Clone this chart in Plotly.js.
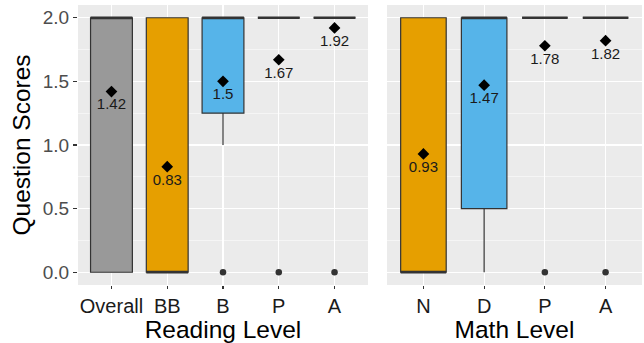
<!DOCTYPE html>
<html>
<head>
<meta charset="utf-8">
<script src="https://cdn.plot.ly/plotly-3.0.1.min.js"></script>
<style>html,body{margin:0;padding:0;background:#fff;}#chart{width:644px;height:343px;}</style>
</head>
<body>
<div id="chart"></div>
<script>
// ---- Data ----
const readingCats = ['Overall', 'BB', 'B', 'P', 'A'];
const readingQ1 = [0, 0, 1.25, 2, 2];
const readingMedian = [2, 0, 2, 2, 2];
const readingQ3 = [2, 2, 2, 2, 2];
const readingLowerFence = [0, 0, 1, 2, 2];
const readingUpperFence = [2, 2, 2, 2, 2];
const readingMean = [1.42, 0.83, 1.5, 1.67, 1.92];
const readingOutlierCats = ['B', 'P', 'A'];
const readingOutlierVals = [0, 0, 0];

const mathCats = ['N', 'D', 'P', 'A'];
const mathQ1 = [0, 0.5, 2, 2];
const mathMedian = [0, 2, 2, 2];
const mathQ3 = [2, 2, 2, 2];
const mathLowerFence = [0, 0, 2, 2];
const mathUpperFence = [2, 2, 2, 2];
const mathMean = [0.93, 1.47, 1.78, 1.82];
const mathOutlierCats = ['P', 'A'];
const mathOutlierVals = [0, 0];

const yTicks = [0, 0.5, 1, 1.5, 2];

// ---- Styles ----
const levelFill = {
  'Overall': '#999999', 'BB': '#E69F00', 'N': '#E69F00',
  'B': '#56B4E9', 'D': '#56B4E9', 'P': '#009E73', 'A': '#F0E442'
};
const BOX_W = 0.75;
const LINE = '#333333';
const FONT = 'Liberation Sans, Arial, sans-serif';

const traces = [];
function addPanel(cats, q1, med, q3, lo, hi, mean, oCats, oVals, xa, ya) {
  const pos = cats.map((c, i) => i + 1);
  cats.forEach((c, i) => {
    traces.push({
      type: 'box', xaxis: xa, yaxis: ya,
      x: [pos[i]], q1: [q1[i]], median: [med[i]], q3: [q3[i]],
      lowerfence: [lo[i]], upperfence: [hi[i]],
      width: BOX_W, whiskerwidth: 0,
      fillcolor: levelFill[c], line: {color: LINE, width: 1.2},
      boxpoints: false, hoverinfo: 'skip', showlegend: false
    });
    // thick median line (ggplot style)
    traces.push({
      type: 'scatter', mode: 'lines', xaxis: xa, yaxis: ya,
      x: [pos[i] - BOX_W / 2, pos[i] + BOX_W / 2], y: [med[i], med[i]],
      line: {color: LINE, width: 2.6}, hoverinfo: 'skip', showlegend: false
    });
  });
  traces.push({
    type: 'scatter', mode: 'markers', xaxis: xa, yaxis: ya,
    x: oCats.map(c => cats.indexOf(c) + 1), y: oVals,
    marker: {color: LINE, size: 6.5, symbol: 'circle'},
    hoverinfo: 'skip', showlegend: false
  });
  traces.push({
    type: 'scatter', mode: 'markers+text', xaxis: xa, yaxis: ya,
    x: pos, y: mean, text: mean.map(String), textposition: 'bottom center',
    textfont: {family: FONT, size: 15, color: '#1a1a1a'},
    marker: {color: '#000000', size: 9, symbol: 'diamond'},
    hoverinfo: 'skip', showlegend: false
  });
  return pos;
}

const rPos = addPanel(readingCats, readingQ1, readingMedian, readingQ3, readingLowerFence,
  readingUpperFence, readingMean, readingOutlierCats, readingOutlierVals, 'x', 'y');
const mPos = addPanel(mathCats, mathQ1, mathMedian, mathQ3, mathLowerFence,
  mathUpperFence, mathMean, mathOutlierCats, mathOutlierVals, 'x2', 'y2');

const xCommon = {
  showgrid: true, gridcolor: '#ffffff', gridwidth: 1.2, zeroline: false,
  ticks: 'outside', ticklen: 3, tickwidth: 1.1, tickcolor: LINE,
  tickfont: {family: FONT, size: 20, color: '#1a1a1a'},
  showline: false, fixedrange: true
};
const yCommon = {
  range: [-0.1, 2.1], tickvals: yTicks, ticktext: yTicks.map(v => v.toFixed(1)),
  showgrid: true, gridcolor: '#ffffff', gridwidth: 1.2, zeroline: false,
  minor: {dtick: 0.25, tick0: 0, showgrid: true, gridcolor: '#ffffff', gridwidth: 0.5, ticks: ''},
  showline: false, fixedrange: true
};

const layout = {
  width: 644, height: 343,
  margin: {l: 78, r: 2, t: 5, b: 58, pad: 0},
  paper_bgcolor: '#ffffff', plot_bgcolor: '#ffffff',
  showlegend: false,
  font: {family: FONT},
  xaxis: Object.assign({}, xCommon, {
    domain: [0, 290 / 564], range: [0.4, readingCats.length + 0.6],
    tickvals: rPos, ticktext: readingCats, anchor: 'y',
    title: {text: 'Reading Level', font: {family: FONT, size: 24.5, color: '#000'}, standoff: 0}
  }),
  xaxis2: Object.assign({}, xCommon, {
    domain: [309 / 564, 1], range: [0.4, mathCats.length + 0.6],
    tickvals: mPos, ticktext: mathCats, anchor: 'y2',
    title: {text: 'Math Level', font: {family: FONT, size: 24.5, color: '#000'}, standoff: 0}
  }),
  yaxis: Object.assign({}, yCommon, {
    anchor: 'x', ticks: 'outside', ticklen: 4, tickwidth: 1.1, tickcolor: LINE,
    tickfont: {family: FONT, size: 19, color: '#4d4d4d'},
    title: {text: 'Question Scores', font: {family: FONT, size: 24.5, color: '#000'}, standoff: 5}
  }),
  yaxis2: Object.assign({}, yCommon, {
    anchor: 'x2', matches: 'y', showticklabels: false, ticks: ''
  }),
  shapes: [
    {type: 'rect', xref: 'x domain', yref: 'y domain', x0: 0, x1: 1, y0: 0, y1: 1,
     fillcolor: '#ebebeb', line: {width: 0}, layer: 'below'},
    {type: 'rect', xref: 'x2 domain', yref: 'y2 domain', x0: 0, x1: 1, y0: 0, y1: 1,
     fillcolor: '#ebebeb', line: {width: 0}, layer: 'below'}
  ]
};

Plotly.newPlot('chart', traces, layout, {staticPlot: true, displayModeBar: false});
</script>
</body>
</html>
